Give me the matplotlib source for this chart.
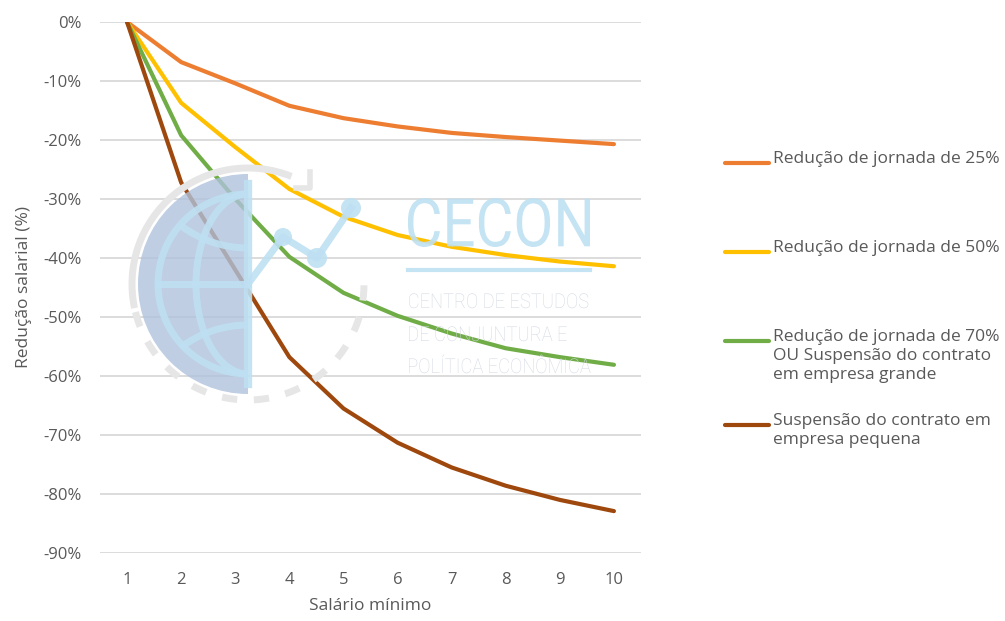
import numpy as np
import matplotlib

matplotlib.use("Agg")
import matplotlib.pyplot as plt
from matplotlib.patches import Wedge, Circle, Arc, PathPatch
from matplotlib.textpath import TextPath
from matplotlib.font_manager import FontProperties
from matplotlib.transforms import Affine2D

# Salary levels (in minimum wages) and salary reduction per scenario (%)
salarios = [1, 2, 3, 4, 5, 6, 7, 8, 9, 10]
jornada_25 = [0.0, -6.8, -10.4, -14.2, -16.3, -17.7, -18.8, -19.5, -20.1, -20.7]
jornada_50 = [0.0, -13.7, -21.2, -28.3, -33.0, -36.1, -38.1, -39.5, -40.6, -41.4]
jornada_70 = [0.0, -19.2, -30.0, -39.8, -45.9, -49.8, -52.8, -55.3, -56.8, -58.1]
suspensao_pequena = [0.0, -27.2, -42.0, -56.8, -65.5, -71.3, -75.5, -78.6, -81.0, -82.9]

series = [
    ("Redução de jornada de 25%", jornada_25, "#ED7D31"),
    ("Redução de jornada de 50%", jornada_50, "#FFC000"),
    ("Redução de jornada de 70%\nOU Suspensão do contrato\nem empresa grande", jornada_70, "#70AD47"),
    ("Suspensão do contrato em\nempresa pequena", suspensao_pequena, "#9E480E"),
]
yticks = list(range(0, -91, -10))

plt.rcParams["font.family"] = ["Open Sans", "DejaVu Sans"]
text_color = "#595959"

W, H = 1005, 621
fig = plt.figure(figsize=(W / 100, H / 100), dpi=100)
fig.patch.set_facecolor("white")
ax = fig.add_axes([100 / W, 1 - 553 / H, 541 / W, 531 / H])

for label, values, color in series:
    ax.plot(salarios, values, color=color, linewidth=3.0, solid_capstyle="round", zorder=3)

ax.set_xlim(0.5, 10.5)
ax.set_ylim(-90, 0)
ax.set_xticks(salarios)
ax.set_yticks(yticks)
ax.set_yticklabels([f"{t}%" for t in yticks])
ax.tick_params(length=0, labelsize=12, labelcolor=text_color)
ax.tick_params(axis="y", pad=13)
ax.tick_params(axis="x", pad=14)
ax.grid(axis="y", color="#D9D9D9", linewidth=1.3, zorder=0)
ax.set_axisbelow(True)
for s in ax.spines.values():
    s.set_visible(False)
ax.set_xlabel("Salário mínimo", fontsize=12.5, color=text_color, labelpad=7)
ax.set_ylabel("Redução salarial (%)", fontsize=12.5, color=text_color, labelpad=8)

# overlay in pixel units (y measured upwards) for the logo and the legend
ov = fig.add_axes([0, 0, 1, 1], zorder=5)
ov.set_xlim(0, W)
ov.set_ylim(0, H)
ov.axis("off")
ov.patch.set_alpha(0)


def Y(y):
    return H - y


cx, cy = 248, Y(284)
ring = "#E6E6E6"
# outer ring: solid on the upper-left, dashed on the rest
ov.add_patch(Arc((cx, cy), 232, 232, theta1=68, theta2=192, color=ring, lw=5))
ov.plot([310, 310, 296], [Y(172), Y(188), Y(188)], color=ring, lw=4)
ang = np.radians(np.linspace(194, 360, 200))
ov.plot(cx + 116 * np.cos(ang), cy + 116 * np.sin(ang), color=ring, lw=5,
        linestyle=(0, (2.2, 2.4)))

# half disk with globe lines
ov.add_patch(Wedge((cx, cy), 110, 90, 270, facecolor="#AFC2DC", alpha=0.8, lw=0))
glob = dict(color="#BEE0F2", lw=5, alpha=0.9)
ov.add_patch(Arc((cx, cy), 180, 180, theta1=90, theta2=270, **glob))
ov.plot([cx - 90, cx], [cy, cy], **glob)
ov.add_patch(Arc((cx, Y(136)), 224, 224, theta1=233, theta2=270, **glob))
ov.add_patch(Arc((cx, Y(437)), 224, 224, theta1=90, theta2=127, **glob))
ov.add_patch(Arc((cx, cy), 104, 180, theta1=90, theta2=270, **glob))
ov.plot([cx, cx], [cy - 100, cy + 100], color="#BEE0F2", lw=6, alpha=0.9)

# small trend line of the logo
px = [cx, 283, 317, 351]
py = [cy, Y(237), Y(258), Y(208)]
ov.plot(px, py, color="#BEE0F2", lw=5, alpha=0.9)
for x, y, r in zip(px[1:], py[1:], [9, 10, 10]):
    ov.add_patch(Circle((x, y), r, color="#BEE0F2", alpha=0.9, lw=0))

# "CECON" lettering, squeezed horizontally
tp = TextPath((0, 0), "CECON", size=100, prop=FontProperties(family="Roboto", weight="normal"))
ext = tp.get_extents()
sx = (590 - 408) / ext.width
sy = 49 / ext.height
tr = Affine2D().translate(-ext.x0, -ext.y0).scale(sx, sy).translate(408, Y(247))
ov.add_patch(PathPatch(tr.transform_path(tp), facecolor="#BEE0F2", lw=0, alpha=0.9))
ov.plot([408, 590], [Y(270), Y(270)], color="#BEE0F2", lw=3, alpha=0.9)

sub_font = FontProperties(family="Roboto", weight="light")
for line, base in zip(["CENTRO DE ESTUDOS", "DE CONJUNTURA E", "POLÍTICA ECONÔMICA"],
                      [308, 341, 373]):
    lp = TextPath((0, 0), line, size=100, prop=sub_font)
    le = lp.get_extents()
    s = 14.5 / 71.1  # cap height of Roboto is about 0.711 em
    ltr = Affine2D().translate(-le.x0, 0).scale(s * 0.9, s).translate(409, Y(base))
    ov.add_patch(PathPatch(ltr.transform_path(lp), facecolor="#D3D8E1", lw=0))

# legend drawn by hand
legend_y = [163, 252, 341, 425]
for (label, values, color), y in zip(series, legend_y):
    ov.plot([725, 769], [Y(y), Y(y)], color=color, lw=3.0, solid_capstyle="round")
    ov.text(773, Y(y - 12), label, fontsize=12.5, color=text_color, ha="left", va="top",
            linespacing=1.27)

fig.savefig("out.png", dpi=100, facecolor="white")
